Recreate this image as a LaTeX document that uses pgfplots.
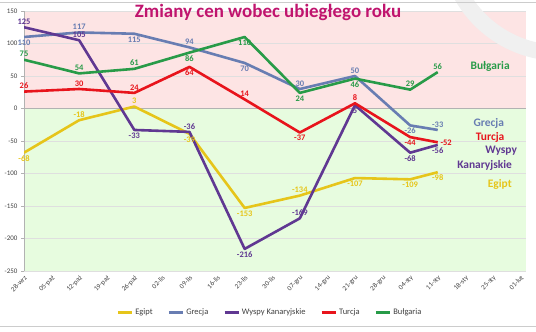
\documentclass[border=0pt]{standalone}
\usepackage{pgfplots}
\pgfplotsset{compat=1.18}
\usepackage{fontspec}
\setmainfont{Carlito}
\definecolor{egipt}{RGB}{230,197,26}
\definecolor{grecja}{RGB}{104,125,178}
\definecolor{wyspy}{RGB}{96,56,146}
\definecolor{turcja}{RGB}{232,20,28}
\definecolor{bulg}{RGB}{40,155,72}
\definecolor{pinkbg}{RGB}{253,228,228}
\definecolor{greenbg}{RGB}{231,252,223}
\definecolor{titlec}{RGB}{192,20,110}
\begin{document}
\begin{tikzpicture}
\begin{scope}
\clip (0,0) rectangle (536bp,332bp);
\draw[gray!12, line width=16bp] (560bp,392bp) ++(205:113bp) arc (205:265:113bp);
\end{scope}
\draw[gray!40, line width=0.6bp] (0,330bp) -- (536bp,330bp);
\draw[gray!40, line width=0.6bp] (0,6bp) -- (536bp,6bp);
\begin{axis}[
  set layers,
  scale only axis, width=502bp, height=260bp,
  at={(24bp,61bp)}, anchor=south west,
  xmin=0, xmax=18.2, ymin=-250, ymax=150,
  ytick={-250,-200,...,150},
  ymajorgrids, grid style={gray!25, line width=0.5bp},
  xtick={0,...,18},
  xticklabels={28-wrz,05-paź,12-paź,19-paź,26-paź,02-lis,09-lis,16-lis,23-lis,30-lis,07-gru,14-gru,21-gru,28-gru,04-sty,11-sty,18-sty,25-sty,01-lut},
  x tick label style={rotate=45, anchor=north east, font=\fontsize{7}{8}\selectfont, text=black!75, inner sep=0.5bp},
  y tick label style={font=\fontsize{7}{8}\selectfont, text=black!75},
  /pgf/number format/assume math mode=true,
  xtick style={draw=none},
  ytick style={gray!60},
  tick align=outside, major tick length=3bp,
  axis lines*=left,
  x axis line style={draw=none},
  y axis line style={gray!60, line width=0.5bp},
  line join=round,
  every axis plot/.append style={line width=2.6bp, no marks},
  nodes near coords,
  point meta=explicit symbolic,
  visualization depends on={value \thisrow{a}\as\myanchor},
  every node near coord/.append style={anchor=\myanchor, font=\bfseries\fontsize{8.5}{10}\selectfont, inner sep=1.5bp},
  legend style={at={(0.49,-0.16)}, anchor=center, draw=none, fill=none, legend columns=-1, font=\fontsize{8.5}{10}\selectfont, text=black!75, /tikz/every even column/.append style={column sep=13bp}},
  legend image code/.code={\draw[#1, line width=2.5bp] (0,0) -- (0.5cm,0);},
]
\pgfplotsonlayer{axis background}
\fill[pinkbg] (axis cs:0,0) rectangle (axis cs:18.2,150);
\fill[greenbg] (axis cs:0,-250) rectangle (axis cs:18.2,0);
\endpgfplotsonlayer
\draw[gray!60, line width=0.5bp] (axis cs:0,0) -- (axis cs:18.2,0);
\pgfplotsinvokeforeach{1,...,18}{\draw[gray!60, line width=0.5bp] (axis cs:#1,0) ++(0,-1.5bp) -- ++(0,3bp);}

\addplot[egipt, every node near coord/.append style={text=egipt}] table[x=x,y=y,meta=y] {
x y a
0 -68 north west
2 -18 south east
4 3 south
6 -39 north
8 -153 north
10 -134 south
12 -107 north
14 -109 north
15 -98 north west
};
\addlegendentry{Egipt}
\addplot[grecja, every node near coord/.append style={text=grecja}] table[x=x,y=y,meta=y] {
x y a
0 110 north west
2 117 south
4 115 north
6 94 south
8 70 north
10 30 south
12 50 south
14 -26 north
15 -33 south west
};
\addlegendentry{Grecja}
\addplot[wyspy, every node near coord/.append style={text=wyspy}] table[x=x,y=y,meta=y] {
x y a
0 125 south west
2 105 south
4 -33 north
6 -36 south
8 -216 north
10 -169 south
12 5 north
14 -68 north
15 -56 north west
};
\addlegendentry{Wyspy Kanaryjskie}
\addplot[turcja, every node near coord/.append style={text=turcja}] table[x=x,y=y,meta=y] {
x y a
0 26 south west
2 30 south
4 24 south
6 64 north
8 14 south west
10 -37 north
12 8 south
14 -44 north west
15 -52 west
};
\addlegendentry{Turcja}
\addplot[bulg, every node near coord/.append style={text=bulg}] table[x=x,y=y,meta=y] {
x y a
0 75 south west
2 54 south
4 61 south
6 86 north
8 110 north
10 24 north
12 46 north
14 29 south
15 56 south
};
\addlegendentry{Bułgaria}

\node[font=\bfseries\fontsize{11.5}{13}\selectfont, text=bulg] at (axis cs:16.9,65) {Bułgaria};
\node[font=\bfseries\fontsize{11.5}{13}\selectfont, text=grecja] at (axis cs:16.85,-23) {Grecja};
\node[font=\bfseries\fontsize{11.5}{13}\selectfont, text=turcja] at (axis cs:16.9,-45) {Turcja};
\node[font=\bfseries\fontsize{11.5}{13}\selectfont, text=wyspy] at (axis cs:17.3,-65) {Wyspy};
\node[font=\bfseries\fontsize{11.5}{13}\selectfont, text=wyspy] at (axis cs:16.7,-87) {Kanaryjskie};
\node[font=\bfseries\fontsize{11.5}{13}\selectfont, text=egipt] at (axis cs:17.25,-117) {Egipt};
\end{axis}
\node[font=\bfseries\fontsize{19}{22}\selectfont, text=titlec] at (268bp,320bp) {Zmiany cen wobec ubiegłego roku};
\pgfresetboundingbox
\useasboundingbox (0,0) rectangle (536bp,332bp);
\end{tikzpicture}
\end{document}
